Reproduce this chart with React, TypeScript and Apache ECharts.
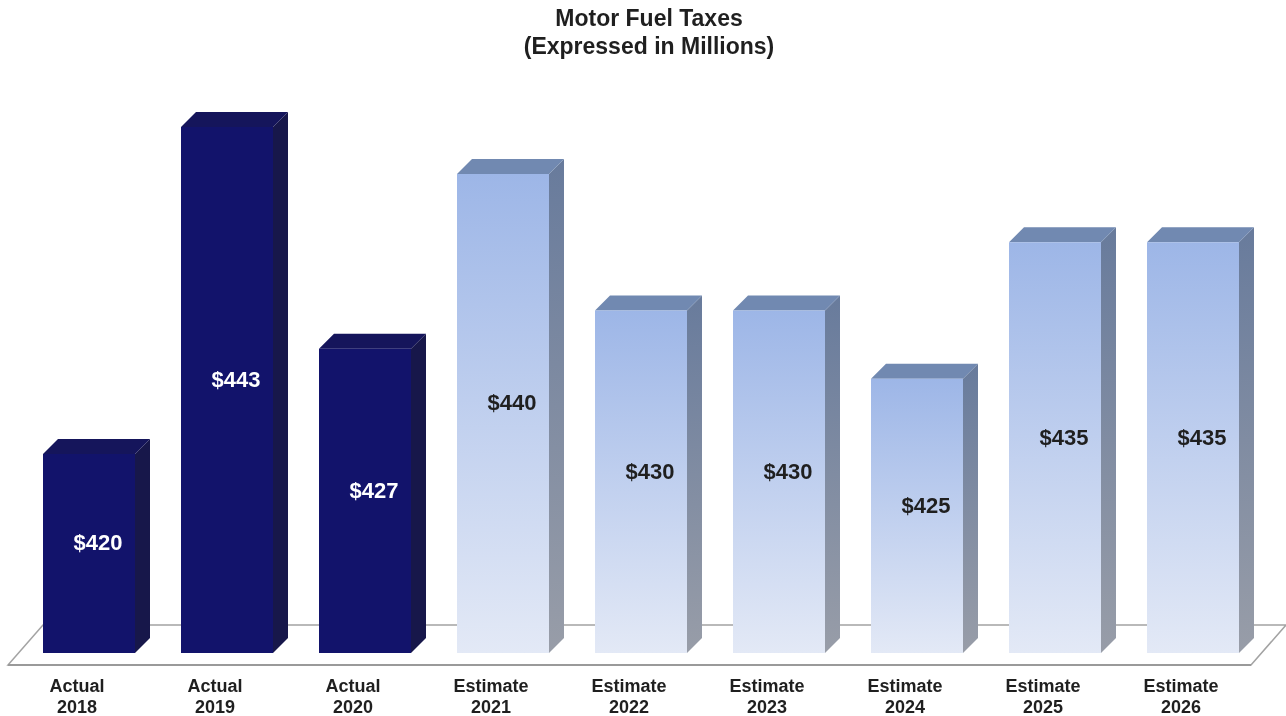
import React, { useEffect, useRef } from "react";
import * as echarts from "echarts";

const years = ["2018", "2019", "2020", "2021", "2022", "2023", "2024", "2025", "2026"];
const kinds = ["Actual", "Actual", "Actual", "Estimate", "Estimate", "Estimate", "Estimate", "Estimate", "Estimate"];
// Values in millions (labels show rounded values)
const values = [420.0, 443.0, 427.4, 439.7, 430.1, 430.1, 425.3, 434.9, 434.9];
const titleLines = ["Motor Fuel Taxes", "(Expressed in Millions)"];

const Y_MIN = 406;
const Y_MAX = 450;
const FONT = "'Liberation Sans', Arial, Helvetica, sans-serif";

export default function App() {
  const ref = useRef<HTMLDivElement>(null);

  useEffect(() => {
    if (!ref.current) return;
    const chart = echarts.init(ref.current, null, { renderer: "svg" });

    const data = values.map((v, i) => [i, v]);

    const renderItem = (params: any, api: any) => {
      const idx = api.value(0);
      const v = api.value(1);
      const top = api.coord([idx, v]);
      const base = api.coord([idx, Y_MIN]);
      const band = api.size([1, 0])[0];
      const w = (band * 92) / 138;
      const d = 15;
      const x = top[0] - w / 2;
      const yT = top[1];
      const yB = base[1];
      const isActual = kinds[idx] === "Actual";

      const frontFill = isActual
        ? "#12136b"
        : new echarts.graphic.LinearGradient(0, 0, 0, 1, [
            { offset: 0, color: "#9db6e7" },
            { offset: 1, color: "#e3e9f6" },
          ]);
      const topFill = isActual ? "#15155b" : "#7189b1";
      const sideFill = isActual
        ? "#17174a"
        : new echarts.graphic.LinearGradient(0, 0, 0, 1, [
            { offset: 0, color: "#687b9c" },
            { offset: 1, color: "#989da8" },
          ]);

      return {
        type: "group",
        children: [
          {
            type: "polygon",
            shape: {
              points: [
                [x + w, yT],
                [x + w + d, yT - d],
                [x + w + d, yB - d],
                [x + w, yB],
              ],
            },
            style: { fill: sideFill },
          },
          {
            type: "polygon",
            shape: {
              points: [
                [x, yT],
                [x + d, yT - d],
                [x + w + d, yT - d],
                [x + w, yT],
              ],
            },
            style: { fill: topFill },
          },
          {
            type: "rect",
            shape: { x, y: yT, width: w, height: yB - yT },
            style: { fill: frontFill },
          },
          {
            type: "text",
            x: top[0] + 9,
            y: (yT - d + yB) / 2 - 3,
            style: {
              text: "$" + Math.round(v),
              fill: isActual ? "#ffffff" : "#1f1f1f",
              font: `bold 22px ${FONT}`,
              align: "center",
              verticalAlign: "middle",
            },
          },
        ],
      };
    };

    chart.setOption({
      animation: false,
      grid: { left: 20, right: 24, top: 27.5, bottom: 63, outerBoundsMode: "none", containLabel: false },
      xAxis: {
        type: "category",
        data: kinds.map((k, i) => k + "\n" + years[i]),
        axisLine: { show: false },
        axisTick: { show: false },
        splitLine: { show: false },
        axisLabel: {
          interval: 0,
          color: "#1f1f1f",
          fontWeight: "bold",
          fontSize: 18,
          lineHeight: 21,
          fontFamily: FONT,
          margin: 22,
          padding: [0, 24, 0, 0],
        },
      },
      yAxis: {
        type: "value",
        min: Y_MIN,
        max: Y_MAX,
        show: false,
      },
      graphic: [
        {
          type: "polygon",
          z: 0,
          shape: {
            points: [
              [8, 665],
              [1251, 665],
              [1286, 625],
              [43, 625],
            ],
          },
          style: { fill: "#ffffff", stroke: "#a3a3a3", lineWidth: 1.5 },
        },
        {
          type: "line",
          z: 0,
          shape: { x1: 8, y1: 665, x2: 1251, y2: 665 },
          style: { stroke: "#9a9a9a", lineWidth: 2 },
        },
        {
          type: "text",
          z: 10,
          x: 649,
          y: 4,
          style: {
            text: titleLines.join("\n"),
            font: `bold 23px ${FONT}`,
            lineHeight: 28,
            fill: "#1f1f1f",
            align: "center",
            verticalAlign: "top",
          },
        },
      ],
      series: [
        {
          type: "custom",
          z: 5,
          renderItem,
          data,
          clip: false,
        },
      ],
    });

    return () => chart.dispose();
  }, []);

  return (
    <div
      ref={ref}
      style={{ position: "fixed", left: 0, top: 0, width: 1286, height: 716 }}
    />
  );
}
